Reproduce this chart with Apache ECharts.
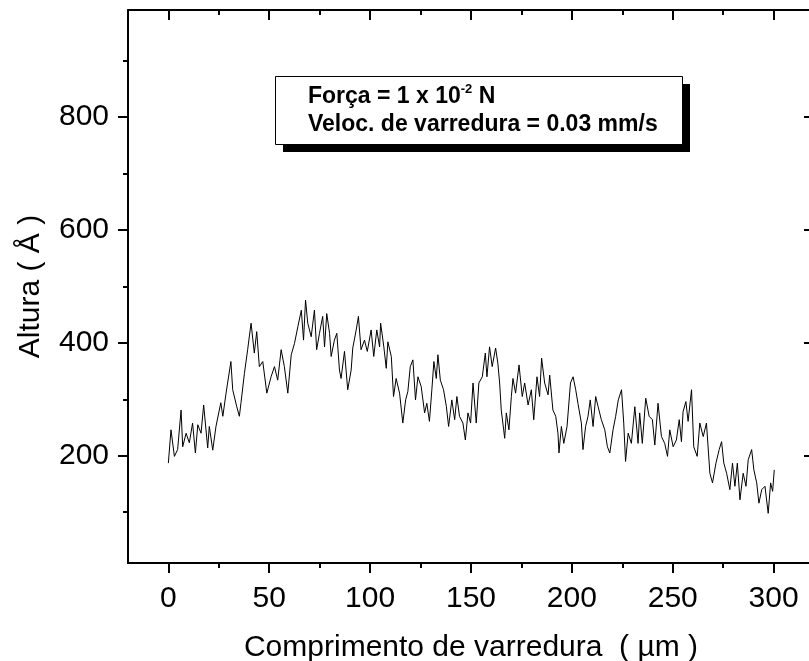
<!DOCTYPE html>
<html>
<head>
<meta charset="utf-8">
<script src="https://cdn.jsdelivr.net/npm/echarts@6/dist/echarts.min.js"></script>
<style>
html,body{margin:0;padding:0;background:#fff;}
#chart{width:809px;height:661px;}
</style>
</head>
<body>
<div id="chart"></div>
<script>
// Scan position (µm)
const scanX = [
0,1.3,3,4.6,6.3,7.1,8.8,10.4,12,13.4,14.6,16.2,17.5,19.5,20.3,22,23.6,26,27,28.6,31,31.9,33.9,35.2,36,37.7,39.3,41,42.6,43.8,45.1,46.8,48.8,50.9,52.6,54.2,55.9,57.5,59.2,60.9,62.5,64.2,65.9,67,68,69.1,70.8,72.4,73.5,74.9,76.5,77.4,78.5,
79.9,80.7,82.3,83.5,84.8,85.6,87.3,88.9,90.6,91.4,93.1,94.2,95.5,97.2,98.6,100.5,101.8,103.3,104.7,105.2,106.8,108,108.8,110.5,111.6,112.9,114.6,116.2,117.6,118.7,119.9,121.2,122.5,123.7,125.3,127,128.1,129.4,130.6,131.6,132.8,133.6,134.8,136.4,137.8,138.9,140.5,141.9,143,144.3,146,147.2,148.5,149.8,151,152.6,153.9,155.6,157.1,
157.9,159.2,160.5,162.2,163.3,164.2,165,166.2,166.7,167.5,168.8,170,170.8,172.1,173.8,175.4,176.6,178.3,179.9,181.1,182.7,184,185,186.5,188.2,189,190.6,192,193.1,193.6,194.8,196,197.6,199.3,200.6,201.9,203,204.7,205.5,206.8,208,209.1,210.5,211.8,213,214.6,216.3,217.6,218.8,220.4,221.7,223,224.6,225.7,226.6,227.9,229.5,231.2,232.8,
233.6,234.9,236.6,238.3,239.9,241.1,242.7,244.4,246,247.4,248.5,250.2,251.8,253.2,254.3,255.1,256.5,257.6,259.3,260.4,262.1,263.4,265.1,266.7,268.4,269.7,271.4,273,274.2,275.3,276.7,278.3,279.6,280.8,282,283.3,284.9,286.3,287.4,289.1,290.2,291.6,292.7,294.1,295.7,297.3,298.5,299.5,300.3
];
// Height (Å)
const height = [
187,246,199,211,281,216,240,223,258,205,255,240,290,214,252,210,252,294,270,311,367,317,287,270,294,346,388,435,382,420,358,367,311,340,358,334,388,358,311,379,399,429,458,405,476,435,411,458,388,417,447,393,452,
417,376,405,417,352,337,385,317,352,391,423,447,388,405,385,423,376,423,393,435,393,355,402,376,305,337,311,258,299,314,358,370,299,340,323,276,293,261,317,367,337,379,334,317,287,252,299,264,305,270,258,228,276,258,329,258,329,340,382,
340,393,358,391,364,329,281,246,231,276,246,305,337,311,361,305,329,290,317,264,340,305,373,329,308,343,281,270,240,205,252,222,252,329,340,317,293,258,211,252,270,299,252,305,287,264,246,216,205,246,270,299,317,258,190,240,222,287,222,
276,222,302,270,264,219,293,234,222,199,246,216,228,264,225,278,296,261,317,216,199,258,234,258,169,152,187,211,225,187,169,140,187,146,187,122,169,146,193,211,175,152,116,140,146,98,152,137,175
];
const xMajor = [0,50,100,150,200,250,300];
const xMinor = [25,75,125,175,225,275];
const yMajor = [200,400,600,800];
const yMinor = [100,300,500,700,900];
const xTitle = 'Comprimento de varredura  ( \u00B5m )';
const yTitle = 'Altura ( \u00C5 )';
const noteLine1a = 'For\u00E7a = 1 x 10';
const noteSup = '-2';
const noteLine1b = ' N';
const noteLine2 = 'Veloc. de varredura = 0.03 mm/s';

const FONT = '"Liberation Sans", Arial, sans-serif';
const X_MIN = -20, X_MAX = 320, Y_MIN = 10, Y_MAX = 990;

function xAx(pos, ticks, len, inside, opts) {
  return Object.assign({
    type: 'value', position: pos, min: X_MIN, max: X_MAX,
    axisLine: { show: false, onZero: false },
    axisTick: { show: true, customValues: ticks, length: len, inside: inside, lineStyle: { color: '#000', width: 2 } },
    axisLabel: { show: false },
    splitLine: { show: false }
  }, opts || {});
}
function yAx(pos, ticks, len, inside, opts) {
  return Object.assign({
    type: 'value', position: pos, min: Y_MIN, max: Y_MAX,
    axisLine: { show: false, onZero: false },
    axisTick: { show: true, customValues: ticks, length: len, inside: inside, lineStyle: { color: '#000', width: 2 } },
    axisLabel: { show: false },
    splitLine: { show: false }
  }, opts || {});
}
const frameLine = { show: true, onZero: false, lineStyle: { color: '#000', width: 2 } };

const chart = echarts.init(document.getElementById('chart'), null, { renderer: 'canvas' });
chart.setOption({
  animation: false,
  backgroundColor: '#fff',
  grid: { left: 128, top: 10, width: 686, height: 553, containLabel: false, outerBoundsMode: 'none' },
  graphic: [
    { type: 'rect', z: 100, shape: { x: 283, y: 84, width: 407, height: 68 }, style: { fill: '#000' } },
    { type: 'rect', z: 101, shape: { x: 275.5, y: 76.5, width: 407, height: 68 }, style: { fill: '#fff', stroke: '#000', lineWidth: 1 } },
    {
      type: 'text', z: 102, left: 308, top: 83,
      style: {
        text: '{a|' + noteLine1a + '}{s|' + noteSup + '}{a|' + noteLine1b + '}\n{a|' + noteLine2 + '}',
        fill: '#000', font: 'bold 23px ' + FONT, lineHeight: 28,
        rich: {
          a: { fontFamily: FONT, fontSize: 23, fontWeight: 'bold', fill: '#000', lineHeight: 28 },
          s: { fontFamily: FONT, fontSize: 13, fontWeight: 'bold', fill: '#000', lineHeight: 28, verticalAlign: 'top', padding: [0, 0, 12, 0] }
        }
      }
    }
  ],
  xAxis: [
    xAx('bottom', xMajor, 10, false, {
      axisLine: frameLine,
      axisLabel: { show: true, customValues: xMajor, fontFamily: FONT, fontSize: 30, color: '#000', margin: 21 },
      name: xTitle, nameLocation: 'middle', nameGap: 70,
      nameTextStyle: { fontFamily: FONT, fontSize: 30, color: '#000' }
    }),
    xAx('bottom', xMinor, 5, false),
    xAx('top', xMajor, 10, true, { axisLine: frameLine }),
    xAx('top', xMinor, 5, true)
  ],
  yAxis: [
    yAx('left', yMajor, 10, false, {
      axisLine: frameLine,
      axisLabel: { show: true, customValues: yMajor, fontFamily: FONT, fontSize: 30, color: '#000', margin: 19 },
      name: yTitle, nameLocation: 'middle', nameGap: 82,
      nameTextStyle: { fontFamily: FONT, fontSize: 30, color: '#000' }
    }),
    yAx('left', yMinor, 5, false),
    yAx('right', yMajor, 10, true, { axisLine: frameLine }),
    yAx('right', yMinor, 5, true)
  ],
  series: [{
    type: 'line',
    xAxisIndex: 0, yAxisIndex: 0,
    data: scanX.map((x, i) => [x, height[i]]),
    showSymbol: false,
    symbol: 'none',
    lineStyle: { color: '#000', width: 1 },
    silent: true
  }]
});
</script>
</body>
</html>
